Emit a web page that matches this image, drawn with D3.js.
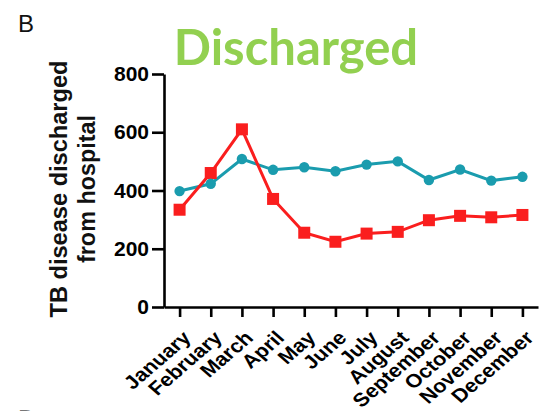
<!DOCTYPE html>
<html>
<head>
<meta charset="utf-8">
<script src="https://cdn.jsdelivr.net/npm/d3@7/dist/d3.min.js"></script>
<style>
  html, body { margin: 0; padding: 0; background: #fff; }
  svg { display: block; }
</style>
</head>
<body>
<svg id="chart" width="552" height="411"></svg>
<script>
// Monthly TB patients discharged from hospital, two series
const months = ["January", "February", "March", "April", "May", "June",
                "July", "August", "September", "October", "November", "December"];
const seriesTeal = [398, 423, 508, 471, 480, 466, 489, 500, 436, 472, 434, 447];
const seriesRed  = [334, 460, 610, 371, 255, 224, 252, 258, 298, 313, 308, 316];
const yTicks = [0, 200, 400, 600, 800];

const svg = d3.select("#chart");
const plot = { left: 164, right: 538, top: 74, bottom: 307 };

const x = d3.scalePoint().domain(months).range([plot.left, plot.right]).padding(0.5);
const y = d3.scaleLinear().domain([0, 800]).range([plot.bottom, plot.top]);

// panel letter
svg.append("text").attr("x", 18).attr("y", 32)
  .attr("font-family", "Liberation Sans, Arial, sans-serif")
  .attr("font-size", 24).attr("fill", "#111").text("B");

// next panel letter, clipped at the bottom edge
svg.append("text").attr("x", 18).attr("y", 426.5)
  .attr("font-family", "Liberation Sans, Arial, sans-serif")
  .attr("font-size", 24).attr("fill", "#777").text("D");

// title
svg.append("text").attr("x", 296).attr("y", 64.5)
  .attr("text-anchor", "middle")
  .attr("font-family", "Lato, sans-serif").attr("font-weight", 700)
  .attr("font-size", 49).attr("fill", "#92d050").text("Discharged");

// y axis
const yAxis = svg.append("g").attr("transform", `translate(${plot.left},0)`)
  .call(d3.axisLeft(y).tickValues(yTicks).tickSize(12).tickSizeOuter(0).tickPadding(3));
yAxis.select(".domain").attr("stroke", "#000").attr("stroke-width", 2.6);
yAxis.selectAll(".tick line").attr("stroke", "#000").attr("stroke-width", 2.6);
yAxis.selectAll(".tick text")
  .attr("font-family", "Liberation Sans, Arial, sans-serif")
  .attr("font-weight", 700).attr("font-size", 21).attr("fill", "#000");

// x axis, month names slanted and slightly widened
const xAxis = svg.append("g").attr("transform", `translate(0,${plot.bottom})`)
  .call(d3.axisBottom(x).tickSize(10).tickSizeOuter(0).tickPadding(0));
xAxis.select(".domain").attr("stroke", "#000").attr("stroke-width", 2.6);
xAxis.selectAll(".tick line").attr("stroke", "#000").attr("stroke-width", 2.6);
xAxis.selectAll(".tick text")
  .attr("font-family", "Liberation Sans, Arial, sans-serif")
  .attr("font-weight", 700).attr("font-size", 19).attr("fill", "#000")
  .attr("text-anchor", "end")
  .attr("dy", null)
  .attr("transform", "translate(12,32) scale(1.15,1) rotate(-45)")
  .attr("y", 0);

// y axis title (two lines)
const titleCy = (plot.top + plot.bottom) / 2 - 1.5;
const yTitle = [
  { text: "TB disease discharged", x: 66.5, len: 257 },
  { text: "from hospital", x: 95, len: 148 }
];
yTitle.forEach(t => {
  svg.append("text")
    .attr("transform", `translate(${t.x},${titleCy}) rotate(-90)`)
    .attr("text-anchor", "middle")
    .attr("font-family", "Liberation Sans, Arial, sans-serif")
    .attr("font-weight", 700).attr("font-size", 24).attr("fill", "#111")
    .attr("textLength", t.len).attr("lengthAdjust", "spacingAndGlyphs")
    .text(t.text);
});

// series lines and markers
const line = d3.line().x((d, i) => x(months[i])).y(d => y(d));
const teal = "#1a9cae", red = "#fa1e1e";

svg.append("path").datum(seriesTeal).attr("d", line)
  .attr("fill", "none").attr("stroke", teal).attr("stroke-width", 3);
svg.append("path").datum(seriesRed).attr("d", line)
  .attr("fill", "none").attr("stroke", red).attr("stroke-width", 3);

svg.append("g").selectAll("rect").data(seriesRed).join("rect")
  .attr("x", (d, i) => x(months[i]) - 6).attr("y", d => y(d) - 6)
  .attr("width", 12).attr("height", 12).attr("fill", red);

svg.append("g").selectAll("circle").data(seriesTeal).join("circle")
  .attr("cx", (d, i) => x(months[i])).attr("cy", d => y(d))
  .attr("r", 5.2).attr("fill", teal);
</script>
</body>
</html>
